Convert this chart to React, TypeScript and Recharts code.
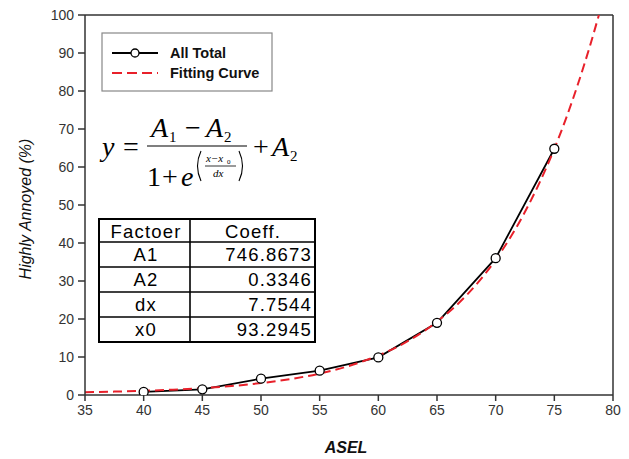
import React from 'react';
import { ComposedChart, Line, XAxis, YAxis, ReferenceLine } from 'recharts';

const xTicks = [35, 40, 45, 50, 55, 60, 65, 70, 75, 80];
const yTicks = [0, 10, 20, 30, 40, 50, 60, 70, 80, 90, 100];

const totalX = [40, 45, 50, 55, 60, 65, 70, 75];
const totalY = [0.8, 1.5, 4.3, 6.4, 9.9, 19.0, 36.0, 64.8];

const fitX = [35, 37.5, 40, 42.5, 45, 47.5, 50, 52.5, 55, 57.5, 60, 62.5, 65, 67.5, 70, 72.5, 75, 76, 77, 78, 78.8];
const fitY = [0.74, 0.89, 1.1, 1.4, 1.8, 2.36, 3.14, 4.19, 5.64, 7.65, 10.4, 14.15, 19.3, 26.2, 35.6, 48.2, 64.8, 72.8, 81.7, 91.5, 100];

const tableRows = [
  ['A1', '746.8673'],
  ['A2', '0.3346'],
  ['dx', '7.7544'],
  ['x0', '93.2945'],
];

const totalData = totalX.map((x, i) => ({ x, y: totalY[i] }));
const fitData = fitX.map((x, i) => ({ x, y: fitY[i] }));

const SANS = 'Arial, "Liberation Sans", Helvetica, sans-serif';
const SERIF = '"Times New Roman", "Liberation Serif", serif';

const Marker = (props: any) => {
  const { cx, cy } = props;
  if (cx == null || cy == null) return null;
  return <circle cx={cx} cy={cy} r={4.5} fill="#fff" stroke="#000" strokeWidth={1.3} />;
};

export default function App() {
  const rowTop = [219, 242, 267, 292, 317, 342];
  return (
    <div style={{ position: 'absolute', left: 0, top: 0, width: 629, height: 459, background: '#fff' }}>
      <ComposedChart width={629} height={459} margin={{ top: 15, right: 16, left: 0, bottom: 34 }}>
        <XAxis
          dataKey="x"
          type="number"
          domain={[35, 80]}
          ticks={xTicks}
          allowDataOverflow
          height={30}
          tickSize={6}
          tickMargin={4}
          stroke="#333"
          strokeWidth={1.5}
          tick={{ fill: '#333', fontSize: 14, fontFamily: SANS }}
        />
        <YAxis
          dataKey="y"
          type="number"
          domain={[0, 100]}
          ticks={yTicks}
          allowDataOverflow
          width={85}
          tickSize={7}
          tickMargin={4}
          stroke="#333"
          strokeWidth={1.5}
          tick={{ fill: '#333', fontSize: 14, fontFamily: SANS }}
        />
        <ReferenceLine y={100} stroke="#333" strokeWidth={1.5} />
        <ReferenceLine x={80} stroke="#333" strokeWidth={1.5} />
        <Line
          data={totalData}
          dataKey="y"
          type="linear"
          stroke="#000"
          strokeWidth={1.8}
          dot={false}
          isAnimationActive={false}
        />
        <Line
          data={fitData}
          dataKey="y"
          type="monotone"
          stroke="#e8202a"
          strokeWidth={2}
          strokeDasharray="9 5"
          dot={false}
          isAnimationActive={false}
        />
        <Line
          data={totalData}
          dataKey="y"
          type="linear"
          stroke="none"
          dot={<Marker />}
          activeDot={false}
          isAnimationActive={false}
        />
      </ComposedChart>
      <svg
        width={629}
        height={459}
        style={{ position: 'absolute', left: 0, top: 0, pointerEvents: 'none' }}
      >
        {/* axis titles */}
        <text
          x={25}
          y={209}
          transform="rotate(-90 25 209)"
          textAnchor="middle"
          dominantBaseline="central"
          fontFamily={SANS}
          fontStyle="italic"
          fontSize={16}
          fill="#111"
        >
          Highly Annoyed (%)
        </text>
        <text x={346} y={453} textAnchor="middle" fontFamily={SANS} fontStyle="italic" fontWeight="bold" fontSize={16} fill="#111">
          ASEL
        </text>

        {/* legend */}
        <rect x={102} y={33} width={170} height={58} fill="#fff" stroke="#888" strokeWidth={1.2} />
        <line x1={112} y1={53} x2={158} y2={53} stroke="#000" strokeWidth={1.8} />
        <circle cx={135} cy={53} r={4} fill="#fff" stroke="#000" strokeWidth={1.3} />
        <text x={170} y={58} fontFamily={SANS} fontWeight="bold" fontSize={14.5} fill="#111">
          All Total
        </text>
        <line x1={112} y1={73} x2={158} y2={73} stroke="#e8202a" strokeWidth={2.2} strokeDasharray="10 5" />
        <text x={170} y={78} fontFamily={SANS} fontWeight="bold" fontSize={14.5} fill="#111">
          Fitting Curve
        </text>

        {/* equation */}
        <g fontFamily={SERIF} fill="#000">
          <text x={102} y={156} fontSize={28} fontStyle="italic">y</text>
          <text x={123} y={156} fontSize={28}>=</text>
          <text x={151} y={137} fontSize={28} fontStyle="italic">A</text>
          <text x={169} y={142} fontSize={15}>1</text>
          <text x={185} y={137} fontSize={28}>−</text>
          <text x={206} y={137} fontSize={28} fontStyle="italic">A</text>
          <text x={224} y={142} fontSize={15}>2</text>
          <line x1={147} y1={146} x2={247} y2={146} stroke="#000" strokeWidth={1.1} />
          <text x={147} y={186} fontSize={28}>1</text>
          <text x={162} y={186} fontSize={28}>+</text>
          <text x={181} y={186} fontSize={28} fontStyle="italic">e</text>
          <path d="M 201 151 Q 194 166 201 181" fill="none" stroke="#000" strokeWidth={1.1} />
          <text x={206} y={162} fontSize={11} fontStyle="italic">x−x</text>
          <text x={227} y={164} fontSize={7}>0</text>
          <line x1={205} y1={166} x2={236} y2={166} stroke="#000" strokeWidth={0.8} />
          <text x={213} y={177} fontSize={11} fontStyle="italic">dx</text>
          <path d="M 239 151 Q 246 166 239 181" fill="none" stroke="#000" strokeWidth={1.1} />
          <text x={253} y={156} fontSize={28}>+</text>
          <text x={272} y={156} fontSize={28} fontStyle="italic">A</text>
          <text x={290} y={161} fontSize={15}>2</text>
        </g>

        {/* coefficient table */}
        <rect x={99} y={219} width={216} height={123} fill="#fff" stroke="#000" strokeWidth={2} />
        <line x1={190} y1={219} x2={190} y2={342} stroke="#000" strokeWidth={1.6} />
        {rowTop.slice(1, 5).map((y) => (
          <line key={y} x1={99} y1={y} x2={315} y2={y} stroke="#000" strokeWidth={1.6} />
        ))}
        <g fontFamily={SANS} fontSize={18.5} fill="#000" letterSpacing={1.2}>
          <text x={146} y={238} textAnchor="middle">Factoer</text>
          <text x={253} y={238} textAnchor="middle">Coeff.</text>
          {tableRows.map((r, i) => (
            <React.Fragment key={r[0]}>
              <text x={146} y={rowTop[i + 1] + 19} textAnchor="middle">{r[0]}</text>
              <text x={312} y={rowTop[i + 1] + 19} textAnchor="end">{r[1]}</text>
            </React.Fragment>
          ))}
        </g>
      </svg>
    </div>
  );
}
